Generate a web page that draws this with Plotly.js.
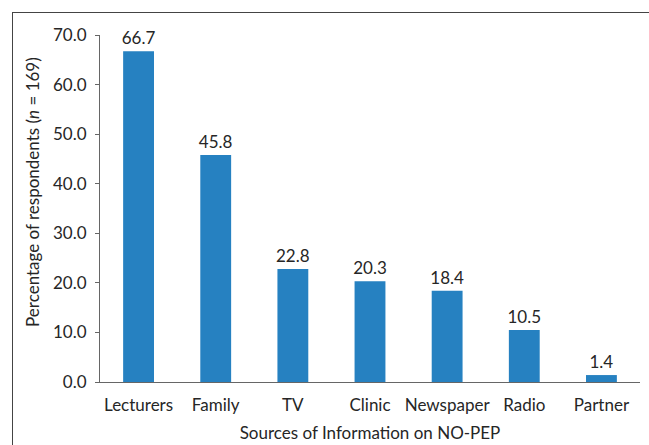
<!DOCTYPE html>
<html>
<head>
<meta charset="utf-8">
<script src="https://cdn.plot.ly/plotly-3.0.1.min.js"></script>
<style>
  html, body { margin: 0; padding: 0; background: #fff; overflow: hidden; }
  #frame { position: absolute; left: 12px; top: 12px; width: 700px; height: 500px; border-left: 1px solid #444; border-top: 1px solid #444; box-sizing: border-box; }
  #chart { position: absolute; left: 0; top: 0; width: 649px; height: 445px; }
</style>
</head>
<body>
<div id="frame"></div>
<div id="chart"></div>
<script>
const categories = ["Lecturers", "Family", "TV", "Clinic", "Newspaper", "Radio", "Partner"];
const percentages = [66.7, 45.8, 22.8, 20.3, 18.4, 10.5, 1.4];
const yTickValues = [0, 10, 20, 30, 40, 50, 60, 70];

const fontFamily = "Lato, 'Open Sans', sans-serif";
const textColor = "#262626";
const fs = 17;

const trace = {
  type: "bar",
  x: categories,
  y: percentages,
  marker: { color: "#2681c1" },
  width: 0.4,
  text: percentages.map(v => v.toFixed(1)),
  textposition: "outside",
  constraintext: "none",
  textfont: { family: fontFamily, size: fs, color: textColor },
  cliponaxis: false,
  hoverinfo: "skip"
};

const layout = {
  width: 649,
  height: 445,
  margin: { l: 100, r: 9, t: 35, b: 63 },
  paper_bgcolor: "rgba(0,0,0,0)",
  plot_bgcolor: "rgba(0,0,0,0)",
  showlegend: false,
  font: { family: fontFamily, size: fs, color: textColor },
  xaxis: {
    type: "category",
    showline: true,
    linecolor: "#666",
    linewidth: 1,
    ticks: "",
    ticklabelstandoff: 8,
    tickfont: { family: fontFamily, size: fs, color: textColor },
    showgrid: false,
    zeroline: false,
    title: { text: "Sources of Information on NO-PEP", font: { family: fontFamily, size: fs, color: textColor }, standoff: 12 }
  },
  yaxis: {
    range: [0, 70],
    tickvals: yTickValues,
    ticktext: yTickValues.map(v => v.toFixed(1)),
    showline: true,
    linecolor: "#666",
    linewidth: 1,
    ticks: "outside",
    ticklen: 4,
    tickcolor: "#666",
    ticklabelstandoff: 5,
    tickfont: { family: fontFamily, size: fs, color: textColor },
    showgrid: false,
    zeroline: false
  },
  annotations: [{
    xref: "paper", yref: "paper",
    x: -0.124, y: 0.548,
    xanchor: "center", yanchor: "middle",
    textangle: -90,
    showarrow: false,
    text: "Percentage of respondents (<i>n</i> = 169)",
    font: { family: fontFamily, size: fs, color: textColor }
  }]
};

Plotly.newPlot("chart", [trace], layout, { displayModeBar: false, staticPlot: true });
</script>
</body>
</html>
